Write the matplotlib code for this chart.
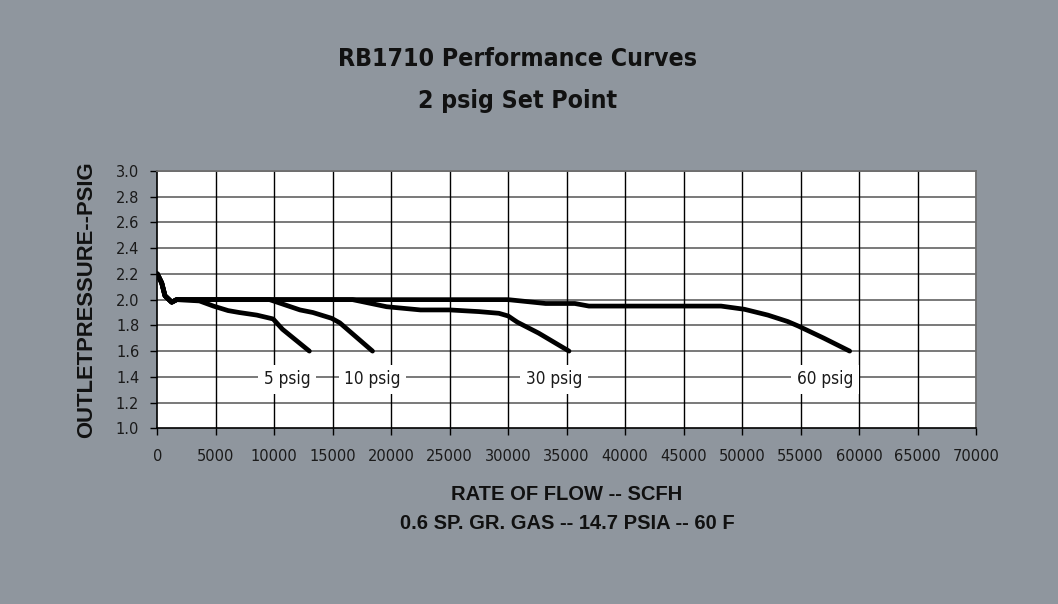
import matplotlib
matplotlib.use("Agg")
import matplotlib.pyplot as plt
import numpy as np

# ---------------------------------------------------------------------------
# Data
# ---------------------------------------------------------------------------
start_x = [0, 375, 655, 1230, 1650]
start_y = [2.20, 2.13, 2.03, 1.98, 2.00]

psig5_x = start_x + [3600, 4800, 6050, 7000, 8500, 9900, 10700, 13000]
psig5_y = start_y + [1.99, 1.95, 1.915, 1.90, 1.88, 1.85, 1.77, 1.60]

psig10_x = start_x + [9600, 12200, 13300, 14900, 15600, 18400]
psig10_y = start_y + [2.00, 1.92, 1.90, 1.855, 1.82, 1.60]

psig30_x = start_x + [16700, 19600, 22500, 25000, 27500, 29200, 30000,
                      30500, 30800, 32600, 35200]
psig30_y = start_y + [2.00, 1.945, 1.92, 1.92, 1.907, 1.894, 1.873,
                      1.842, 1.824, 1.74, 1.60]

psig60_x = start_x + [30000, 33200, 35700, 36900, 48200, 50200, 52200,
                      53900, 54800, 57000, 59200]
psig60_y = start_y + [2.00, 1.97, 1.97, 1.95, 1.95, 1.925, 1.88,
                      1.83, 1.795, 1.70, 1.60]

curves = [(psig5_x, psig5_y), (psig10_x, psig10_y),
          (psig30_x, psig30_y), (psig60_x, psig60_y)]

label_text = ["5 psig", "10 psig", "30 psig", "60 psig"]
label_x = [11100, 18400, 33900, 57100]
label_y = 1.38

x_ticks = np.arange(0, 70001, 5000)
y_ticks = np.round(np.arange(1.0, 3.01, 0.2), 1)

# ---------------------------------------------------------------------------
BG = "#8f969e"
COND = dict(family="DejaVu Sans", fontstretch="condensed")

fig = plt.figure(figsize=(10.58, 6.04), dpi=100, facecolor=BG)
ax = fig.add_axes([0.1487, 0.2909, 0.9225 - 0.1487, 0.7169 - 0.2909])
ax.set_facecolor("white")

ax.set_xlim(0, 70000)
ax.set_ylim(1.0, 3.0)
ax.set_xticks(x_ticks)
ax.set_yticks(y_ticks)
ax.set_xticklabels([str(v) for v in x_ticks])
ax.set_yticklabels([f"{v:.1f}" for v in y_ticks])

# gridlines: grey horizontal, black vertical
for v in y_ticks[1:]:
    ax.axhline(v, color="#6e6e6e", lw=1.3, zorder=1)
for v in x_ticks[1:]:
    ax.axvline(v, color="black", lw=1.0, zorder=1)

for cx, cy in curves:
    ax.plot(cx, cy, color="black", lw=3.4, solid_capstyle="round",
            solid_joinstyle="round", zorder=3)

for txt, lx in zip(label_text, label_x):
    ax.text(lx, label_y, txt, ha="center", va="center", fontsize=12.3,
            color="#1a1a1a", zorder=4,
            bbox=dict(facecolor="white", edgecolor="none", pad=4), **COND)

for side in ("top", "right"):
    ax.spines[side].set_color("#6e6e6e")
    ax.spines[side].set_linewidth(1.3)
for side in ("left", "bottom"):
    ax.spines[side].set_color("black")
    ax.spines[side].set_linewidth(1.2)

ax.tick_params(axis="both", direction="out", length=5, width=1.0,
               color="black", labelsize=10.5, labelcolor="#1a1a1a")
ax.tick_params(axis="x", pad=10)
ax.tick_params(axis="y", pad=8)

ax.set_ylabel("OUTLETPRESSURE--PSIG", fontsize=15.8, fontweight="bold",
              family="Liberation Sans", color="#111111")
ax.yaxis.set_label_coords(-0.0737, 0.5)

fig.text(0.489, 0.903, "RB1710 Performance Curves", ha="center", va="center",
         fontsize=17.8, fontweight="bold", color="#111111", **COND)
fig.text(0.489, 0.832, "2 psig Set Point", ha="center", va="center",
         fontsize=17.8, fontweight="bold", color="#111111", **COND)

fig.text(0.536, 0.182, "RATE OF FLOW -- SCFH", ha="center", va="center",
         fontsize=14.5, fontweight="bold", family="Liberation Sans",
         color="#111111")
fig.text(0.536, 0.134, "0.6 SP. GR. GAS -- 14.7 PSIA -- 60 F", ha="center",
         va="center", fontsize=14.5, fontweight="bold",
         family="Liberation Sans", color="#111111")

fig.savefig("out.png", dpi=100, facecolor=BG)
